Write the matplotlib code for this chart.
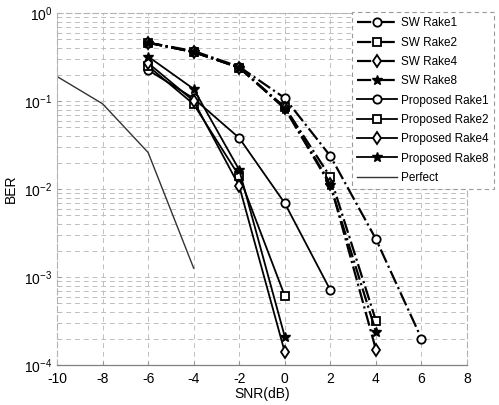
import matplotlib
matplotlib.use("Agg")
import matplotlib.pyplot as plt
import numpy as np

plt.rcParams['font.family'] = ['Liberation Sans', 'DejaVu Sans']
plt.rcParams['axes.unicode_minus'] = False
plt.rcParams['mathtext.fontset'] = 'custom'
plt.rcParams['mathtext.rm'] = 'Liberation Sans'

# Data
snr_sw = [-6, -4, -2, 0, 2, 4, 6]
sw_rake1 = [0.46, 0.37, 0.245, 0.108, 0.0237, 0.0027, 0.0002]
snr_sw2 = [-6, -4, -2, 0, 2, 4]
sw_rake2 = [0.46, 0.36, 0.24, 0.085, 0.0137, 0.00032]
sw_rake4 = [0.46, 0.36, 0.24, 0.083, 0.0115, 0.00015]
sw_rake8 = [0.46, 0.36, 0.24, 0.082, 0.011, 0.00024]

snr_p1 = [-6, -4, -2, 0, 2]
prop_rake1 = [0.225, 0.107, 0.038, 0.0069, 0.00071]
snr_p = [-6, -4, -2, 0]
prop_rake2 = [0.25, 0.092, 0.014, 0.00061]
prop_rake4 = [0.27, 0.1, 0.0108, 0.00014]
prop_rake8 = [0.32, 0.137, 0.0165, 0.00021]

snr_perfect = [-10, -8, -6, -4]
perfect = [0.19, 0.093, 0.026, 0.00126]

xticks = [-10, -8, -6, -4, -2, 0, 2, 4, 6, 8]

fig = plt.figure(figsize=(4.99, 4.05), dpi=100)
ax = fig.add_axes([57/499, 40/405, (467-57)/499, (365-13)/405])

k = 'black'
ax.semilogy(snr_sw, sw_rake1, '-.', color=k, lw=1.6, marker='o', ms=6, mfc='white', mew=1.3, label='SW Rake1')
ax.semilogy(snr_sw2, sw_rake2, '-.', color=k, lw=1.6, marker='s', ms=6, mfc='white', mew=1.3, label='SW Rake2')
ax.semilogy(snr_sw2, sw_rake4, '-.', color=k, lw=1.6, marker='d', ms=6, mfc='white', mew=1.3, label='SW Rake4')
ax.semilogy(snr_sw2, sw_rake8, '-.', color=k, lw=1.6, marker='*', ms=7, mfc=k, mew=1.0, label='SW Rake8')
ax.semilogy(snr_p1, prop_rake1, '-', color=k, lw=1.3, marker='o', ms=6, mfc='white', mew=1.3, label='Proposed Rake1')
ax.semilogy(snr_p, prop_rake2, '-', color=k, lw=1.3, marker='s', ms=6, mfc='white', mew=1.3, label='Proposed Rake2')
ax.semilogy(snr_p, prop_rake4, '-', color=k, lw=1.3, marker='d', ms=6, mfc='white', mew=1.3, label='Proposed Rake4')
ax.semilogy(snr_p, prop_rake8, '-', color=k, lw=1.3, marker='*', ms=7, mfc=k, mew=1.0, label='Proposed Rake8')
ax.semilogy(snr_perfect, perfect, '-', color='#333333', lw=1.0, label='Perfect')

ax.set_xlim(-10, 8)
ax.set_ylim(1e-4, 1)
ax.set_xticks(xticks)
ax.set_xticklabels([str(t) for t in xticks])
ax.tick_params(direction='in', labelsize=10, length=3, color='0.6')
ax.tick_params(axis='x', pad=5)
ax.tick_params(which='minor', direction='in', length=1.5, color='0.7')

ax.grid(True, which='major', axis='x', ls=(0, (5, 4)), color='0.75', lw=0.7)
ax.grid(True, which='both', axis='y', ls=(0, (5, 4)), color='0.75', lw=0.7)

for s in ['left', 'top', 'right']:
    ax.spines[s].set_color('0.7')
    ax.spines[s].set_linestyle((0, (5, 3)))
    ax.spines[s].set_linewidth(0.8)
ax.spines['bottom'].set_color('0.5')
ax.spines['bottom'].set_linewidth(0.9)

ax.set_xlabel('SNR(dB)', fontsize=10, labelpad=1)
ax.set_ylabel('BER', fontsize=10, labelpad=4)

leg = ax.legend(loc='upper left', bbox_to_anchor=(352/499, 1-12/405), bbox_transform=fig.transFigure,
                fontsize=8.5, frameon=True, fancybox=False, framealpha=1, edgecolor='0.6',
                handlelength=3.4, handletextpad=0.3, labelspacing=0.62, borderpad=0.45, borderaxespad=0)
leg.get_frame().set_linewidth(0.8)
leg.get_frame().set_linestyle((0, (4, 3)))

fig.savefig('out.png', dpi=100)
